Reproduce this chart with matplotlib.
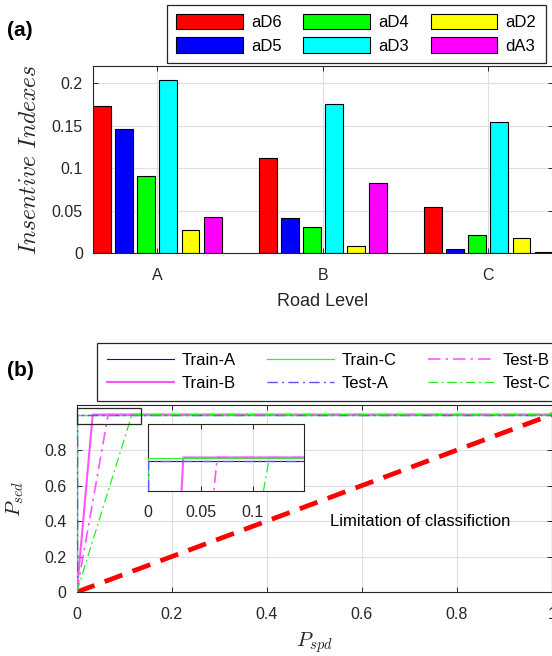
import matplotlib
matplotlib.use("Agg")
import matplotlib.pyplot as plt
from matplotlib.patches import Rectangle
import numpy as np

plt.rcParams['font.family'] = ['Liberation Sans', 'DejaVu Sans']
plt.rcParams['mathtext.fontset'] = 'cm'

# ---------------- data (a) ----------------
road_levels = ['A', 'B', 'C']
series_names = ['aD6', 'aD5', 'aD4', 'aD3', 'aD2', 'dA3']
series_colors = ['#ff0000', '#0000ff', '#00ff00', '#00ffff', '#ffff00', '#ff00ff']
aD6 = [0.173, 0.112, 0.055]
aD5 = [0.146, 0.042, 0.005]
aD4 = [0.091, 0.031, 0.021]
aD3 = [0.204, 0.176, 0.155]
aD2 = [0.027, 0.008, 0.018]
dA3 = [0.043, 0.083, 0.001]
series_values = [aD6, aD5, aD4, aD3, aD2, dA3]

# ---------------- data (b) ----------------
curve_names = ['Train-A', 'Train-B', 'Train-C', 'Test-A', 'Test-B', 'Test-C']
trainA_x = [0, 0, 1];      trainA_y = [0, 0.995, 0.995]
trainB_x = [0, 0.0335, 1]; trainB_y = [0, 1, 1]
trainC_x = [0, 0, 1];      trainC_y = [0, 1, 1]
testA_x = [0, 0, 1];       testA_y = [0, 0.995, 0.995]
testB_x = [0, 0.066, 1];   testB_y = [0, 1, 1]
testC_x = [0, 0.116, 1];   testC_y = [0, 1, 1]
limit_x = [0, 1]
limit_y = [0, 1]

curves = [
    (trainA_x, trainA_y, dict(color='#0000ff', lw=0.8, ls='-')),
    (trainB_x, trainB_y, dict(color='#ff55ff', lw=1.5, ls='-')),
    (trainC_x, trainC_y, dict(color='#33ee33', lw=0.9, ls='-')),
    (testA_x, testA_y, dict(color='#5555ff', lw=1.0, dashes=(7.5, 3, 1.5, 3))),
    (testB_x, testB_y, dict(color='#ff55ff', lw=1.2, dashes=(7.5, 3, 1.5, 3))),
    (testC_x, testC_y, dict(color='#22ee22', lw=0.9, dashes=(7.5, 3, 1.5, 3))),
]

W, H = 552, 656
fig = plt.figure(figsize=(W / 100, H / 100), dpi=100)

dark = '#262626'
grid_c = '#dfdfdf'


def px_axes(l, t, r, b):
    return fig.add_axes([l / W, 1 - b / H, (r - l) / W, (b - t) / H])


def style(ax, fs=11.5):
    for s in ax.spines.values():
        s.set_color(dark)
        s.set_linewidth(0.8)
    ax.tick_params(direction='in', length=3.5, width=0.7, color=dark,
                   labelcolor=dark, labelsize=fs, top=True, right=True)
    ax.tick_params(axis='x', pad=10.5)
    ax.tick_params(axis='y', pad=7.5)
    ax.grid(True, color=grid_c, lw=0.8)
    ax.set_axisbelow(True)


# ---------------- panel (a) ----------------
ax1 = px_axes(93.3, 65.7, 552.5, 253.3)
style(ax1)
x = np.arange(1, len(road_levels) + 1)
pitch = 0.8 / 6
bw = 0.108
for j, (name, vals, col) in enumerate(zip(series_names, series_values, series_colors)):
    ax1.bar(x + (j - 2.5) * pitch, vals, width=bw, color=col,
            edgecolor='black', linewidth=0.8, label=name, zorder=2)
ax1.set_xlim(1 - 2.5 * pitch - bw / 2, 3 + 2.5 * pitch + bw / 2)
ax1.set_ylim(0, 0.2207)
ax1.set_xticks(x)
ax1.set_xticklabels(road_levels)
ax1.set_yticks([0, 0.05, 0.1, 0.15, 0.2])
ax1.set_yticklabels(['0', '0.05', '0.1', '0.15', '0.2'])
ax1.set_xlabel('Road Level', fontsize=13, color=dark)
ax1.xaxis.label.set_va('center')
ax1.xaxis.set_label_coords(0.5, -(301.7 - 253.3) / (253.3 - 65.7))
ax1.set_ylabel(r'$Insentive\ Indexes$', fontsize=17, color=dark)
ax1.yaxis.label.set_va('center')
ax1.yaxis.set_label_coords((30 - 93.3) / (552.5 - 93.3), 0.5)

leg1 = ax1.legend(ncol=3, loc='upper left',
                  bbox_to_anchor=(167 / W, 1 - 4.7 / H), bbox_transform=fig.transFigure,
                  fontsize=12, handlelength=4.0, handleheight=1.05,
                  handletextpad=0.5, columnspacing=1.3, labelspacing=0.42,
                  borderpad=0.55, borderaxespad=0, fancybox=False, framealpha=1)
leg1.get_frame().set_edgecolor(dark)
leg1.get_frame().set_linewidth(0.9)

# ---------------- panel (b) ----------------
ax2 = px_axes(76.8, 405, 552, 592)
style(ax2)
for (cx, cy, kw), name in zip(curves, curve_names):
    ax2.plot(cx, cy, label=name, zorder=3, **kw)
ax2.plot(limit_x, limit_y, color='#ff0000', lw=3.4, dashes=(4, 2.3), zorder=2.8)
ax2.set_xlim(0, 1)
ax2.set_ylim(0, 1.054)
ax2.set_xticks([0, 0.2, 0.4, 0.6, 0.8, 1.0])
ax2.set_xticklabels(['0', '0.2', '0.4', '0.6', '0.8', '1'])
ax2.set_yticks([0, 0.2, 0.4, 0.6, 0.8])
ax2.set_yticklabels(['0', '0.2', '0.4', '0.6', '0.8'])
ax2.set_xlabel(r'$P_{spd}$', fontsize=15, color=dark)
ax2.xaxis.label.set_va('center')
ax2.xaxis.set_label_coords(0.5, -(642.5 - 592) / (592 - 405))
ax2.set_ylabel(r'$P_{sed}$', fontsize=15, color=dark)
ax2.yaxis.label.set_va('center')
ax2.yaxis.set_label_coords((15 - 76.8) / (552 - 76.8), 0.5)
ax2.text(0.532, 0.396, 'Limitation of classifiction', fontsize=12,
         color='black', ha='left', va='center')
ax2.add_patch(Rectangle((0, 0.945), 0.135, 0.093, fill=False,
                        edgecolor=dark, lw=0.9, zorder=4, clip_on=False))

leg2 = ax2.legend(ncol=3, loc='upper left',
                  bbox_to_anchor=(97 / W, 1 - 343 / H), bbox_transform=fig.transFigure,
                  fontsize=12, handlelength=4.0, handletextpad=0.5,
                  columnspacing=1.85, labelspacing=0.45, borderpad=0.6,
                  borderaxespad=0, fancybox=False, framealpha=1)
leg2.get_frame().set_edgecolor(dark)
leg2.get_frame().set_linewidth(0.9)

# inset
ax3 = px_axes(148.3, 424.3, 304.3, 490.7)
style(ax3)
ax3.tick_params(right=False, left=False, labelleft=False)
for cx, cy, kw in curves:
    ax3.plot(cx, cy, zorder=3, **kw)
ax3.set_xlim(0, 0.1494)
ax3.set_ylim(0.951, 1.049)
ax3.set_xticks([0, 0.05, 0.1])
ax3.set_xticklabels(['0', '0.05', '0.1'])
ax3.set_yticks([])
ax3.grid(True, axis='x', color=grid_c, lw=0.8)

fig.text(7 / W, 1 - 30 / H, '(a)', fontsize=15, fontweight='bold', va='center', ha='left')
fig.text(7 / W, 1 - 371 / H, '(b)', fontsize=15, fontweight='bold', va='center', ha='left')

fig.savefig('out.png', dpi=100)
